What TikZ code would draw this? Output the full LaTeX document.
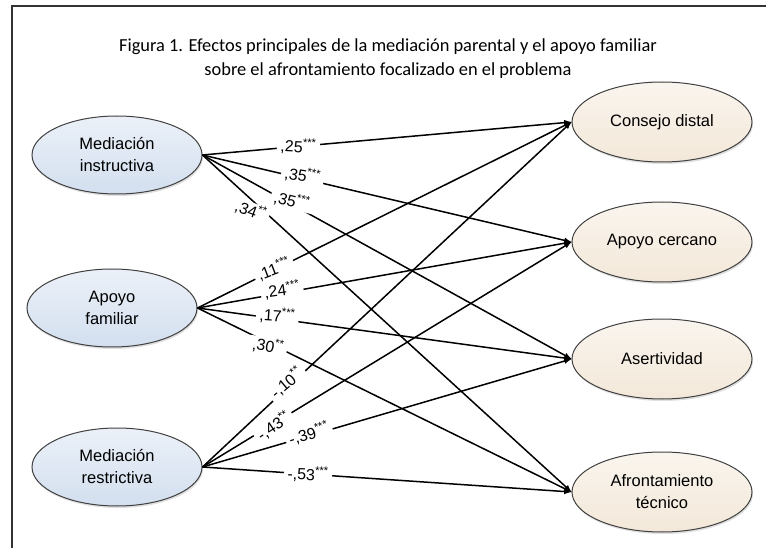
\documentclass[tikz,border=0pt]{standalone}
\usepackage{fontspec}
\setmainfont{Liberation Sans}
\newfontfamily\titulofont{Carlito}
\usetikzlibrary{shapes.geometric,shadows}

\definecolor{azulpred}{HTML}{D3DFEF}
\definecolor{cremacrit}{HTML}{F3E8D9}
\newcommand{\stars}[1]{\textsuperscript{#1}}

\tikzset{
  pred/.style={ellipse, draw=black!75, line width=1pt,
    top color=white!55!azulpred, bottom color=azulpred,
    minimum width=170pt, minimum height=78pt, inner sep=0pt, align=center,
    font=\fontsize{16.5}{22}\selectfont,
    drop shadow={opacity=0.25, shadow xshift=1pt, shadow yshift=-2pt}},
  crit/.style={pred, top color=white!55!cremacrit, bottom color=cremacrit,
    minimum width=180pt, minimum height=80pt},
  flecha/.style={-latex, line width=1.5pt},
  coef/.style={fill=white, inner xsep=3.5pt, inner ysep=0pt,
    font=\fontsize{16}{18}\selectfont}
}

\begin{document}
\begin{tikzpicture}[x=1pt, y=-1pt]
            \useasboundingbox (0, 0) rectangle (766, 548);
            \draw[line width=1.3pt, black!80] (12, 548) -- (12, 6) -- (766, 6);

            \node[align=center, font=\titulofont\fontsize{18.4}{24}\selectfont] (titulo) at (388, 59)
                {Figura 1. Efectos principales de la mediación parental y el apoyo familiar\\
                 sobre el afrontamiento focalizado en el problema};

            \node[pred] (instr) at (117, 155) {Mediación\\instructiva};
            \node[pred] (apoyo) at (112, 308) {Apoyo\\familiar};
            \node[pred] (restr) at (117, 467) {Mediación\\restrictiva};

            \node[crit] (distal) at (662, 122) {Consejo distal};
            \node[crit] (cercano) at (662, 242) {Apoyo cercano};
            \node[crit] (asert) at (662, 359) {Asertividad};
            \node[crit] (tecnico) at (662, 492) {Afrontamiento\\técnico};

            \draw[flecha] (instr.east) -- node[coef, pos=.26, rotate=-3] {,25\stars{***}} (distal.west);
            \draw[flecha] (instr.east) -- node[coef, pos=.27, rotate=-9, yshift=3pt] {,35\stars{***}} (cercano.west);
            \draw[flecha] (instr.east) -- node[coef, pos=.24, rotate=-14, yshift=3pt] {,35\stars{***}} (asert.west);
            \draw[flecha] (instr.east) -- node[coef, pos=.15, rotate=-20, xshift=-5pt, yshift=-7pt] {,34\stars{**}} (tecnico.west);

            \draw[flecha] (apoyo.east) -- node[coef, pos=.205, rotate=21, yshift=1pt] {,11\stars{***}} (distal.west);
            \draw[flecha] (apoyo.east) -- node[coef, pos=.227, rotate=8, yshift=3pt] {,24\stars{***}} (cercano.west);
            \draw[flecha] (apoyo.east) -- node[coef, pos=.213, rotate=-4, yshift=3pt] {,17\stars{***}} (asert.west);
            \draw[flecha] (apoyo.east) -- node[coef, pos=.19, rotate=-10, yshift=-3pt] {,30\stars{**}} (tecnico.west);

            \draw[flecha] (restr.east) -- node[coef, pos=.235, rotate=40, yshift=4pt] {-,10\stars{**}} (distal.west);
            \draw[flecha] (restr.east) -- node[coef, pos=.19, rotate=34, yshift=-2pt] {-,43\stars{**}} (cercano.west);
            \draw[flecha] (restr.east) -- node[coef, pos=.29, rotate=17, yshift=2pt] {-,39\stars{***}} (asert.west);
            \draw[flecha] (restr.east) -- node[coef, pos=.286, rotate=-2] {-,53\stars{***}} (tecnico.west);
\end{tikzpicture}
\end{document}
